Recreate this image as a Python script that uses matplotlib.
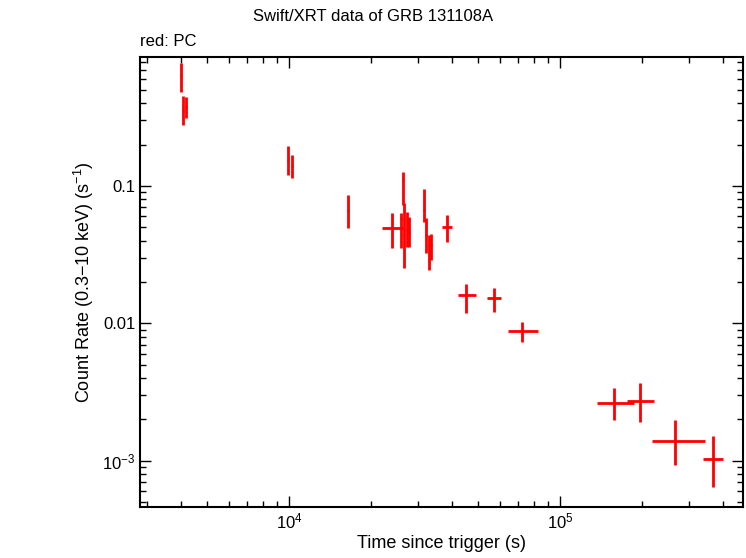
import numpy as np
import matplotlib
matplotlib.use("Agg")
import matplotlib.pyplot as plt
from matplotlib.ticker import FixedLocator, LogLocator, NullFormatter

plt.rcParams['font.family'] = 'Liberation Sans'
plt.rcParams['mathtext.fontset'] = 'custom'
plt.rcParams['mathtext.rm'] = 'Liberation Sans'
plt.rcParams['mathtext.it'] = 'Liberation Sans'
plt.rcParams['mathtext.default'] = 'regular'

# time (s), time error low/high, rate, rate error low/high
t = [3995, 4064, 4170, 9915, 10260, 16520, 23990, 25880, 26350, 26570, 27240, 27720,
     31500, 32040, 32870, 33450, 38270, 44980, 57020, 72440, 158100, 197200, 265300, 367400]
t_lo = [3960, 4030, 4130, 9800, 10150, 16350, 22020, 25600, 26150, 26300, 26950, 27400,
        31200, 31750, 32550, 33100, 36700, 42040, 53800, 64300, 137000, 176600, 218200, 337300]
t_hi = [4030, 4100, 4210, 10030, 10370, 16700, 26350, 26150, 26550, 26850, 27500, 28050,
        31800, 32350, 33200, 33800, 39900, 48980, 60500, 82970, 187500, 222300, 342700, 399000]
rate = [0.641, 0.357, 0.376, 0.1545, 0.1396, 0.0668, 0.0495, 0.0585, 0.1106, 0.0441, 0.0479, 0.0463,
        0.0668, 0.0441, 0.0373, 0.0373, 0.0503, 0.0161, 0.0153, 0.00881, 0.00264, 0.00273, 0.00140, 0.00102]
rate_lo = [0.483, 0.278, 0.313, 0.120, 0.1143, 0.0495, 0.0354, 0.0354, 0.0727, 0.0254, 0.0360, 0.0360,
           0.0547, 0.0326, 0.0245, 0.0290, 0.0392, 0.0119, 0.0121, 0.00733, 0.00199, 0.00192, 0.000935, 0.000647]
rate_hi = [0.785, 0.452, 0.444, 0.195, 0.168, 0.0861, 0.0637, 0.0637, 0.1265, 0.0752, 0.0647, 0.0596,
           0.0951, 0.0585, 0.0441, 0.0448, 0.0615, 0.0194, 0.0181, 0.01025, 0.00340, 0.00369, 0.00199, 0.00150]

t = np.array(t); rate = np.array(rate)
xerr = [t - np.array(t_lo), np.array(t_hi) - t]
yerr = [rate - np.array(rate_lo), np.array(rate_hi) - rate]

fig = plt.figure(figsize=(7.46, 5.58), dpi=100)
ax = fig.add_axes([140 / 746, 51 / 558, 603 / 746, 450 / 558])
ax.errorbar(t, rate, xerr=xerr, yerr=yerr, fmt='none', ecolor='#ff0000', elinewidth=2, capsize=0)
ax.set_xscale('log')
ax.set_yscale('log')
ax.set_xlim(2820, 4.73e5)
ax.set_ylim(4.6e-4, 0.867)

ax.xaxis.set_major_locator(FixedLocator([1e4, 1e5]))
ax.set_xticklabels(['$10^4$', '$10^5$'])
ax.yaxis.set_major_locator(FixedLocator([1e-3, 0.01, 0.1]))
ax.set_yticklabels(['$10^{-3}$', '0.01', '0.1'])
ax.xaxis.set_minor_locator(LogLocator(subs=np.arange(2, 10)))
ax.yaxis.set_minor_locator(LogLocator(subs=np.arange(2, 10)))
ax.xaxis.set_minor_formatter(NullFormatter())
ax.yaxis.set_minor_formatter(NullFormatter())
ax.tick_params(which='both', direction='in', top=True, right=True, labelsize=12)
ax.tick_params(which='major', length=8, width=1)
ax.tick_params(which='minor', length=4, width=1)
for s in ax.spines.values():
    s.set_linewidth(1.5)

ax.set_xlabel('Time since trigger (s)', fontsize=13, labelpad=2)
ax.set_ylabel('Count Rate (0.3$-$10 keV) (s$^{-1}$)', fontsize=13)
fig.text(0.5, 0.962, 'Swift/XRT data of GRB 131108A', ha='center', fontsize=12)
fig.text(140 / 746, 0.918, 'red: PC', ha='left', fontsize=12)

fig.savefig('out.png', dpi=100)
